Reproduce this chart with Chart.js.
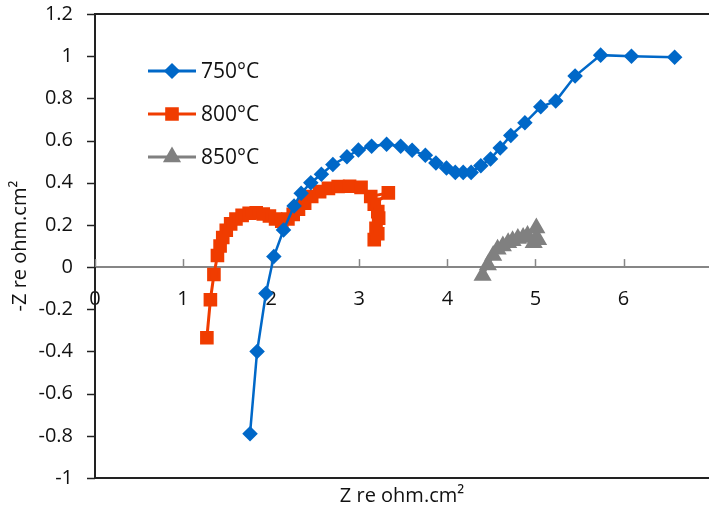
<!DOCTYPE html>
<html>
<head>
<meta charset="utf-8">
<script src="https://cdn.jsdelivr.net/npm/chart.js@4"></script>
<style>
  body { margin: 0; background: #fff; }
  #wrap { width: 709px; height: 510px; }
</style>
</head>
<body>
<div id="wrap"><canvas id="myChart" width="709" height="510"></canvas></div>
<script>
// series labels
const seriesNames = ['750°C', '800°C', '850°C'];

// 750°C
const x750 = [1.76, 1.84, 1.94, 2.03, 2.14, 2.26, 2.34, 2.45, 2.57, 2.70, 2.86, 2.99, 3.14, 3.31, 3.47, 3.60, 3.75, 3.87, 3.99, 4.09, 4.18, 4.27, 4.38, 4.49, 4.60, 4.72, 4.88, 5.06, 5.23, 5.45, 5.74, 6.09, 6.58];
const y750 = [-0.79, -0.40, -0.125, 0.05, 0.176, 0.29, 0.35, 0.40, 0.44, 0.486, 0.523, 0.555, 0.573, 0.582, 0.573, 0.554, 0.53, 0.494, 0.47, 0.449, 0.449, 0.449, 0.481, 0.513, 0.565, 0.624, 0.684, 0.76, 0.787, 0.906, 1.005, 1.0, 0.995];

// 800°C
const x800 = [1.27, 1.31, 1.35, 1.39, 1.42, 1.45, 1.49, 1.54, 1.60, 1.67, 1.75, 1.83, 1.91, 1.98, 2.05, 2.12, 2.19, 2.25, 2.31, 2.38, 2.46, 2.55, 2.65, 2.76, 2.89, 3.02, 3.13, 3.33, 3.17, 3.21, 3.22, 3.19, 3.21, 3.17];
const y800 = [-0.335, -0.155, -0.035, 0.055, 0.10, 0.14, 0.175, 0.205, 0.228, 0.245, 0.255, 0.257, 0.252, 0.242, 0.228, 0.218, 0.228, 0.25, 0.275, 0.303, 0.335, 0.358, 0.373, 0.382, 0.383, 0.378, 0.335, 0.352, 0.298, 0.263, 0.232, 0.184, 0.158, 0.13];

// 850°C
const x850 = [4.40, 4.46, 4.52, 4.57, 4.63, 4.69, 4.74, 4.80, 4.86, 4.91, 5.01, 4.98, 5.03];
const y850 = [-0.04, 0.01, 0.055, 0.085, 0.10, 0.115, 0.125, 0.135, 0.14, 0.15, 0.185, 0.115, 0.13];

const xTicks = [0, 1, 2, 3, 4, 5, 6];

function pts(xs, ys) {
  let out = [];
  for (let i = 0; i < xs.length; i++) {
    out.push({ x: xs[i], y: ys[i] });
  }
  return out;
}

const FONT = 'Open Sans';
const XMIN = 0, XMAX = 6.97;

// frame, tick marks and the inner legend
const framePlugin = {
  id: 'frame',
  beforeDatasetsDraw(chart) {
    const ctx = chart.ctx;
    const a = chart.chartArea;
    const xs = chart.scales.x;
    const ys = chart.scales.y;
    const y0 = ys.getPixelForValue(0);
    ctx.save();
    // x ticks point up from the zero line
    ctx.strokeStyle = '#868686';
    ctx.lineWidth = 1.5;
    xTicks.forEach(v => {
      const px = Math.round(xs.getPixelForValue(v)) + 0.5;
      ctx.beginPath();
      ctx.moveTo(px, y0);
      ctx.lineTo(px, y0 - 8);
      ctx.stroke();
    });
    // y ticks outside the left edge
    ctx.strokeStyle = '#222';
    ys.ticks.forEach(t => {
      const py = Math.round(ys.getPixelForValue(t.value)) + 0.5;
      ctx.beginPath();
      ctx.moveTo(a.left, py);
      ctx.lineTo(a.left - 8, py);
      ctx.stroke();
    });
    ctx.lineWidth = 2;
    ctx.beginPath();
    ctx.moveTo(a.left, a.top);
    ctx.lineTo(a.right, a.top);
    ctx.moveTo(a.left, a.bottom);
    ctx.lineTo(a.right, a.bottom);
    ctx.stroke();
    ctx.restore();
  },
  afterDatasetsDraw(chart) {
    const ctx = chart.ctx;
    const rows = [71, 114, 157];
    ctx.save();
    chart.data.datasets.forEach((ds, i) => {
      const y = rows[i];
      ctx.strokeStyle = ds.borderColor;
      ctx.lineWidth = 3;
      ctx.beginPath();
      ctx.moveTo(148, y);
      ctx.lineTo(196, y);
      ctx.stroke();
      ctx.fillStyle = ds.pointBackgroundColor;
      ctx.strokeStyle = ds.pointBorderColor;
      Chart.helpers.drawPoint(ctx, {
        pointStyle: ds.pointStyle,
        radius: ds.pointRadius,
        rotation: 0,
        borderWidth: 1
      }, 172, y);
      ctx.fillStyle = '#111';
      ctx.font = '21px "' + FONT + '"';
      ctx.textBaseline = 'middle';
      ctx.textAlign = 'left';
      ctx.fillText(ds.label, 201, y + 1);
    });
    ctx.restore();
  }
};

const ctx = document.getElementById('myChart').getContext('2d');
const myChart = new Chart(ctx, {
  type: 'scatter',
  data: {
    datasets: [{
      label: seriesNames[0],
      data: pts(x750, y750),
      showLine: true,
      borderColor: '#0068C8',
      borderWidth: 2.5,
      pointStyle: 'rectRot',
      pointRadius: 6,
      pointBackgroundColor: '#0068C8',
      pointBorderColor: '#0068C8'
    }, {
      label: seriesNames[1],
      data: pts(x800, y800),
      showLine: true,
      borderColor: '#F03C00',
      borderWidth: 3,
      pointStyle: 'rect',
      pointRadius: 7.5,
      pointBackgroundColor: '#F03C00',
      pointBorderColor: '#F03C00'
    }, {
      label: seriesNames[2],
      data: pts(x850, y850),
      showLine: true,
      borderColor: '#808080',
      borderWidth: 3,
      pointStyle: 'triangle',
      pointRadius: 7.5,
      pointBackgroundColor: '#808080',
      pointBorderColor: '#808080'
    }]
  },
  options: {
    responsive: false,
    animation: false,
    layout: { autoPadding: false, padding: { top: 2, right: 0, left: 0, bottom: 0 } },
    scales: {
      x: {
        type: 'linear',
        position: { y: 0 },
        min: XMIN,
        max: XMAX,
        afterBuildTicks: s => { s.ticks = xTicks.map(v => ({ value: v })); },
        grid: { display: false },
        border: { display: true, color: '#868686', width: 2 },
        ticks: { padding: 12, color: '#111', font: { family: FONT, size: 20 } }
      },
      x2: {
        type: 'linear',
        position: 'bottom',
        axis: 'x',
        min: XMIN,
        max: XMAX,
        ticks: { display: false },
        grid: { display: false, drawTicks: false },
        border: { display: false },
        title: {
          display: true,
          text: 'Z re ohm.cm²',
          color: '#111',
          font: { family: FONT, size: 20 },
          padding: { top: 6, bottom: 2 }
        }
      },
      y: {
        min: -1,
        max: 1.2,
        ticks: {
          stepSize: 0.2,
          padding: 2,
          color: '#111',
          font: { family: FONT, size: 20 },
          callback: v => String(Number(v.toFixed(1)))
        },
        grid: { display: true, drawOnChartArea: false, drawTicks: true, tickLength: 20, color: 'rgba(0,0,0,0)' },
        border: { display: true, color: '#222', width: 2 },
        title: {
          display: true,
          text: '-Z re ohm.cm²',
          color: '#111',
          font: { family: FONT, size: 20 },
          padding: { top: 8, bottom: 0 }
        },
        afterFit: s => { s.width = 95; }
      }
    },
    plugins: {
      legend: { display: false },
      tooltip: { enabled: false }
    }
  },
  plugins: [framePlugin]
});
</script>
</body>
</html>
